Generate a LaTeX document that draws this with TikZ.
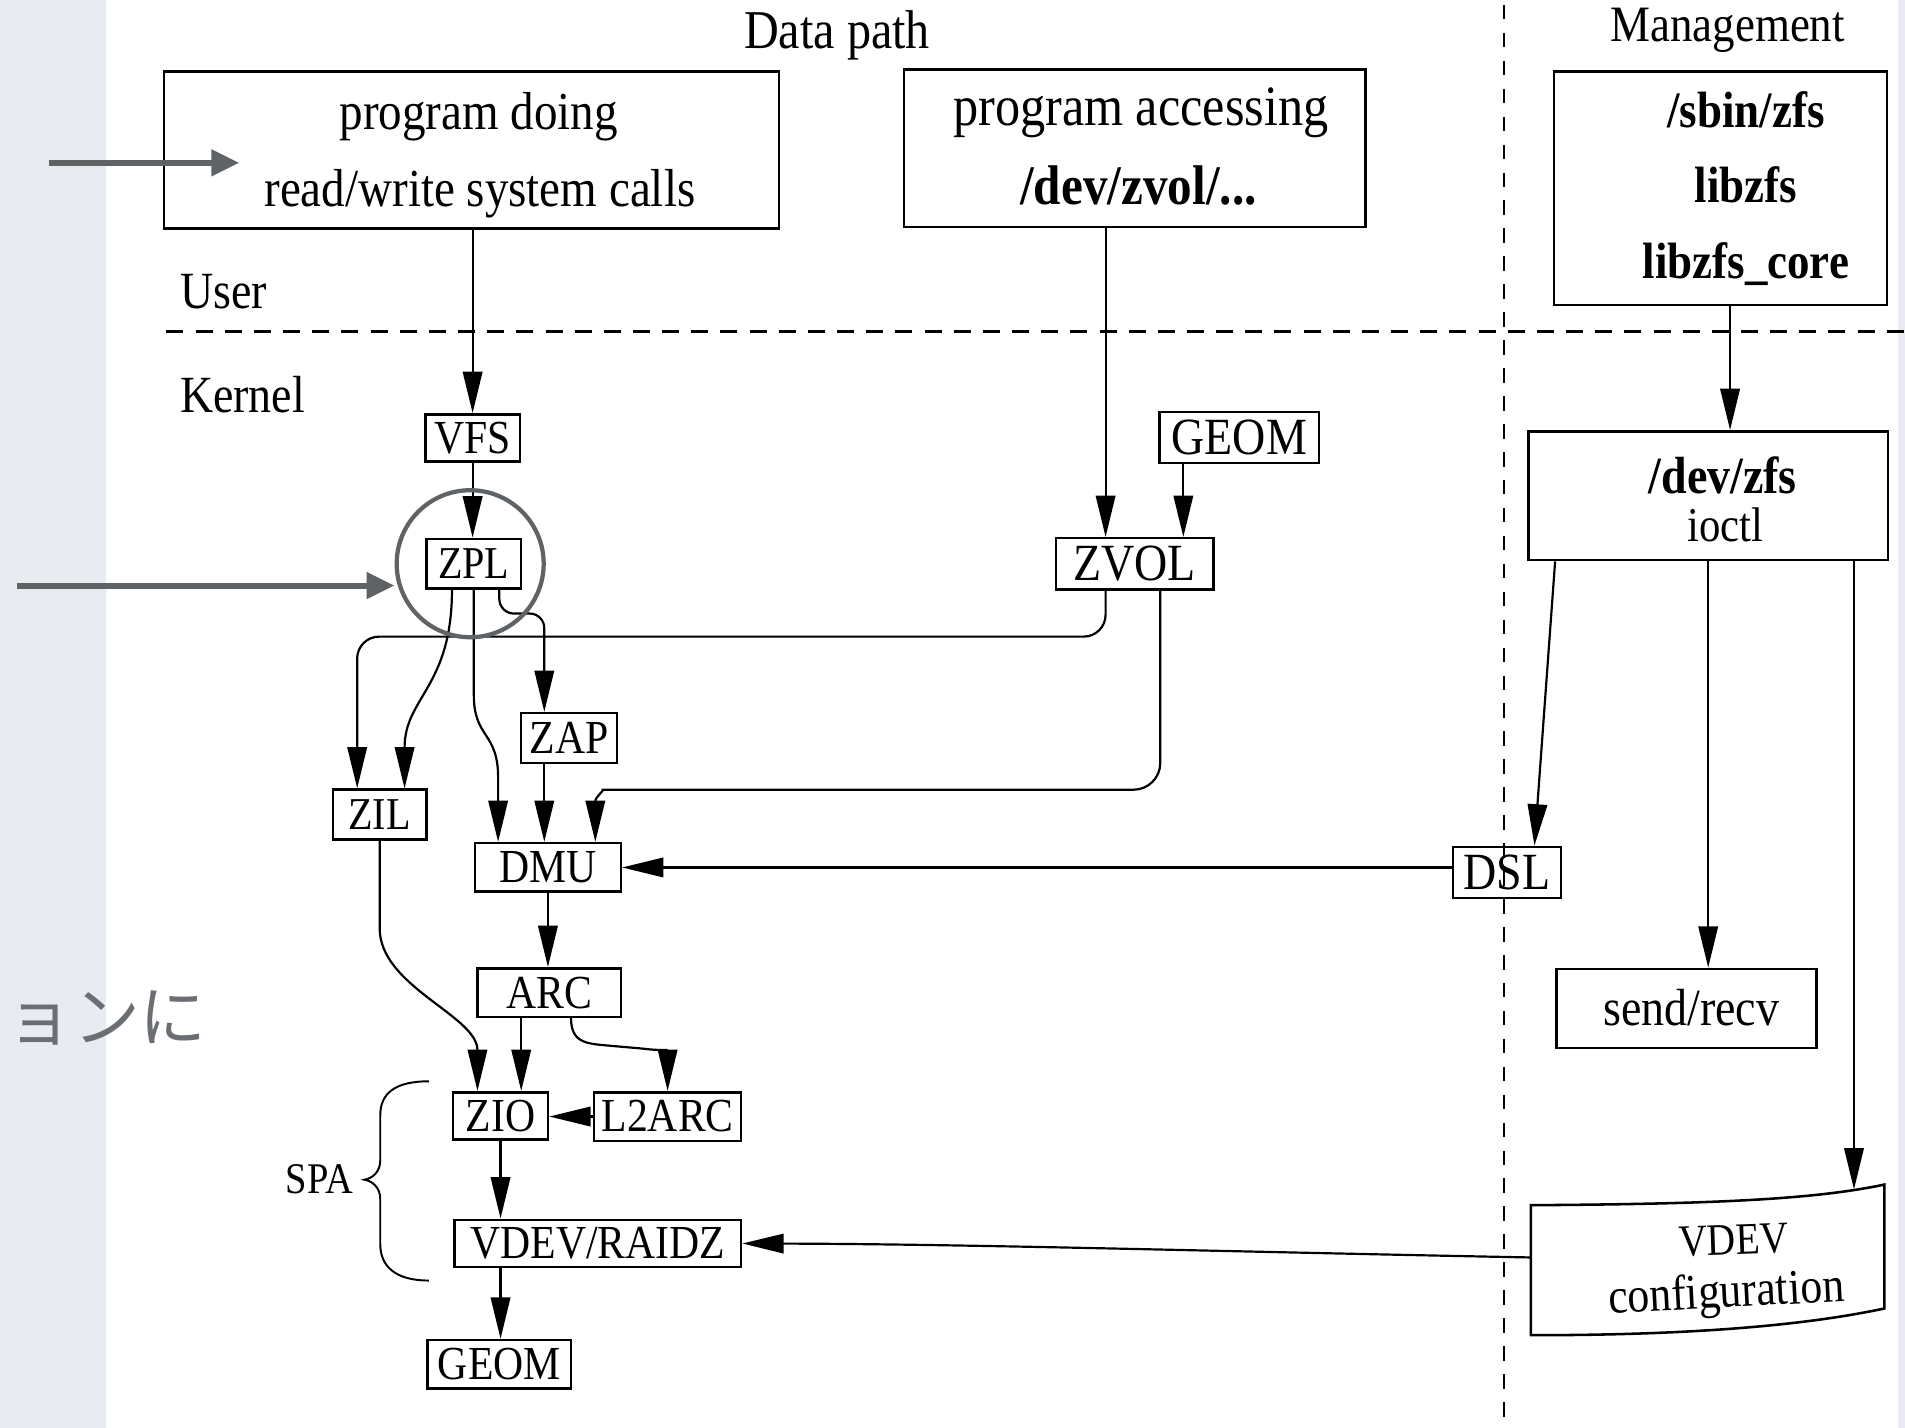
\documentclass[tikz,border=0pt]{standalone}
\usepackage{fontspec}
\setmainfont{Liberation Serif}[FakeStretch=0.88]
\newfontfamily\jpfont{Noto Sans CJK JP}
\usetikzlibrary{arrows.meta}
\newcommand{\setfs}[2]{\fontsize{#1}{#2}\selectfont}
\definecolor{stripgray}{HTML}{E8EBEF}
\definecolor{annot}{HTML}{5F6366}
\definecolor{jpgray}{HTML}{6B6F73}

\begin{document}
\begin{tikzpicture}[x=1pt, y=-1pt,
  box/.style={draw, line width=2.1pt, fill=white, inner sep=0pt, rectangle},
  lbl/.style={box, font=\setfs{39}{42}},
  conn/.style={line width=1.8pt, -{Triangle[length=34pt,width=16pt]}},
  txt/.style={inner sep=0pt},
  annotarrow/.style={draw=annot, line width=5pt, -{Triangle[length=23pt,width=21pt]}}
]
\useasboundingbox (0,0) rectangle (1568,1175);
\fill[white] (0,0) rectangle (1568,1175);
\fill[stripgray] (0,0) rectangle (87,1175);
\fill[stripgray] (1562,0) rectangle (1568,1175);

% headings
\node[txt, font=\setfs{45}{48}] (hdata) at (689,29) {Data path};
\node[txt, font=\setfs{42}{46}] (hmgmt) at (1422,25) {Management};
\node[txt, font=\setfs{43}{46}, anchor=west] (huser) at (148,240) {User};
\node[txt, font=\setfs{43}{46}, anchor=west] (hkern) at (148,325) {Kernel};

% user space programs
\node[box, minimum width=506pt, minimum height=129pt] (prog1) at (388,123.5) {};
\node[txt, anchor=base, font=\setfs{44}{48}] (prog1a) at (394,107) {program doing};
\node[txt, anchor=base, font=\setfs{44}{48}] (prog1b) at (395,170) {read/write system calls};
\node[box, minimum width=380pt, minimum height=130pt] (prog2) at (934,122) {};
\node[txt, anchor=base, font=\setfs{47}{50}] (prog2a) at (939,103) {program accessing};
\node[txt, anchor=base, font=\bfseries\setfs{46}{50}] (prog2b) at (937,168) {/dev/zvol/...};
\node[box, minimum width=274pt, minimum height=192pt] (mgmt) at (1416,155) {};
\node[txt, align=center, font=\bfseries\setfs{42}{62}] (mgmttxt) at (1437,155) {/sbin/zfs\\libzfs\\libzfs\_core};

% kernel modules
\node[lbl, minimum width=78pt, minimum height=39pt] (vfs) at (389,360.5) {VFS};
\node[lbl, minimum width=78pt, minimum height=41pt, font=\setfs{37.5}{42}] (zpl) at (390,464) {ZPL};
\node[lbl, minimum width=131pt, minimum height=42pt, font=\setfs{43}{46}] (geomt) at (1020,360) {GEOM};
\node[lbl, minimum width=130pt, minimum height=42pt, font=\setfs{43}{46}] (zvol) at (934,464) {ZVOL};
\node[lbl, minimum width=79pt, minimum height=41pt] (zap) at (468.5,607.5) {ZAP};
\node[lbl, minimum width=77pt, minimum height=41pt, font=\setfs{37.5}{42}] (zil) at (312.5,670.5) {ZIL};
\node[lbl, minimum width=120pt, minimum height=40pt] (dmu) at (451,714) {DMU};
\node[lbl, minimum width=89pt, minimum height=42pt, font=\setfs{43}{46}] (dsl) at (1240.5,718) {DSL};
\node[lbl, minimum width=118pt, minimum height=40pt] (arc) at (452,817) {ARC};
\node[lbl, minimum width=78pt, minimum height=39pt] (zio) at (412,918.5) {ZIO};
\node[lbl, minimum width=121pt, minimum height=40pt] (l2arc) at (549.5,919) {L2ARC};
\node[lbl, minimum width=236pt, minimum height=39pt] (vdevr) at (492,1023.5) {VDEV/RAIDZ};
\node[lbl, minimum width=118pt, minimum height=40pt] (geomb) at (411,1123) {GEOM};

% management side
\node[box, minimum width=296pt, minimum height=106pt] (devzfs) at (1406,408) {};
\node[txt, anchor=base, font=\bfseries\setfs{43}{46}] (devzfsa) at (1418,406) {/dev/zfs};
\node[txt, anchor=base, font=\setfs{40}{44}] (devzfsb) at (1420,446) {ioctl};
\node[box, minimum width=214pt, minimum height=65pt] (sendrecv) at (1388,830) {};
\node[txt, font=\setfs{43}{46}] (sendrecvtxt) at (1392,829) {send/recv};
\draw[line width=2.1pt, fill=white]
  (1260,992) .. controls (1400,991) and (1490,988) .. (1551,975)
  -- (1551,1077) .. controls (1490,1090) and (1400,1099) .. (1260,1099) -- cycle;
\node[txt, font=\setfs{37}{40}, rotate=2] (vcfg1) at (1427,1021) {VDEV};
\node[txt, font=\setfs{41}{44}, rotate=3] (vcfg2) at (1421,1066) {configuration};
\coordinate (vcfgtop) at (1526,979);
\coordinate (vcfgleft) at (1260,1035);

% SPA brace
\draw[line width=1.6pt]
  (353,890) .. controls (325,890) and (313,900) .. (313,918) -- (313,955)
  .. controls (313,965) and (306,970) .. (300,971)
  .. controls (306,972) and (313,977) .. (313,987) -- (313,1024)
  .. controls (313,1042) and (325,1054) .. (353,1054);
\node[txt, font=\setfs{36}{40}] (spa) at (263,971) {SPA};

% connectors: user to kernel
\draw[conn] (prog1.south -| vfs.north) -- (vfs.north);
\draw[conn] (vfs.south) -- (vfs.south |- zpl.north);
\coordinate (zvolA) at ([xshift=-24pt]zvol.north);
\coordinate (zvolB) at ([xshift=40pt]zvol.north);
\draw[conn] (zvolA |- prog2.south) -- (zvolA);
\draw[conn] (zvolB |- geomt.south) -- (zvolB);

% ZVOL to ZIL and DMU
\coordinate (zvolC) at ([xshift=-24pt]zvol.south);
\coordinate (zvolD) at ([xshift=21pt]zvol.south);
\coordinate (zilA) at ([xshift=-18.5pt]zil.north);
\coordinate (zilB) at ([xshift=20.5pt]zil.north);
\coordinate (busA) at (0,524);
\coordinate (busC) at (0,650);
\coordinate (dmuA) at ([xshift=-41pt]dmu.north);
\coordinate (dmuB) at ([xshift=39pt]dmu.north);
\draw[conn, rounded corners=18pt] (zvolC) -- (zvolC |- busA) -- (zilA |- busA) -- (zilA);
\draw[conn, rounded corners=22pt] (zvolD) -- (zvolD |- busC) -- (518,650)
  .. controls (498,650) and (dmuB |- 0,656) .. (dmuB);

% ZPL fan-out
\coordinate (zplA) at ([xshift=-18pt]zpl.south);
\coordinate (zplB) at ([xshift=21pt]zpl.south);
\coordinate (zapA) at ([xshift=-20.5pt]zap.north);
\coordinate (zapB) at ([xshift=-20.5pt]zap.south);
\coordinate (busB) at (0,505);
\draw[conn] (zplA) .. controls +(0,80) and +(0,-75) .. (zilB);
\draw[conn] (zpl.south) -- (390,572) .. controls (390,608) and (dmuA |- 0,602) .. (dmuA |- 0,640) -- (dmuA);
\draw[conn, rounded corners=12pt] (zplB) -- (zplB |- busB) -- (zapA |- busB) -- (zapA);
\draw[conn] (zapB) -- (zapB |- dmu.north);

% management connectors
\coordinate (dzA) at ([xshift=-126pt]devzfs.south);
\coordinate (dzB) at ([xshift=120pt]devzfs.south);
\coordinate (dslA) at ([xshift=22.5pt]dsl.north);
\coordinate (mgA) at ([xshift=8pt]mgmt.south);
\draw[conn] (mgA) -- (mgA |- devzfs.north);
\draw[conn] (dzA) -- (dslA);
\draw[conn] (devzfs.south) -- (devzfs.south |- sendrecv.north);
\draw[conn] (dzB) -- (vcfgtop);
\draw[conn] (dsl.west |- dmu.east) -- (dmu.east);

% DMU down to storage
\coordinate (arcA) at ([xshift=-23pt]arc.south);
\coordinate (arcB) at ([xshift=18pt]arc.south);
\coordinate (zioA) at ([xshift=-19pt]zio.north);
\coordinate (vdA) at ([xshift=-80pt]vdevr.south);
\draw[conn] (dmu.south) -- (dmu.south |- arc.north);
\draw[conn] (arcA) -- (arcA |- zio.north);
\draw[conn] (arcB) .. controls +(0,22) and +(-20,-2) .. (505,861) -- (528,863)
  .. controls +(16,2) and +(0,-34) .. (l2arc.north);
\draw[conn] (zil.south) -- ++(0,72) .. controls +(0,48) and +(0,-62) .. (zioA);
\draw[conn] (l2arc.west) -- (l2arc.west -| zio.east);
\draw[conn] (zio.south) -- (zio.south |- vdevr.north);
\draw[conn] (vcfgleft) .. controls (1000,1030) and (800,1024) .. (vdevr.east);
\draw[conn] (vdA) -- (vdA |- geomb.north);

% user/kernel and data/management separators
\draw[line width=2.2pt, dash pattern=on 14pt off 10pt] (137,273) -- (1568,273);
\draw[line width=1.7pt, dash pattern=on 12pt off 11pt] (1238,4) -- (1238,1168);

% highlight marks
\node[circle, draw=annot, line width=3.5pt, minimum size=121pt, inner sep=0pt] (zplring) at (387,464) {};
\coordinate (mk1) at (40,134);
\coordinate (mk1end) at (197,134);
\coordinate (mk2) at (14,482);
\draw[annotarrow] (mk1) -- (mk1end);
\draw[annotarrow] (mk2) -- (mk2 -| zplring.west);
\node[txt, anchor=west, text=jpgray, font=\jpfont\setfs{55}{58}] (jptext) at (5,838) {ョンに};
\end{tikzpicture}
\end{document}
